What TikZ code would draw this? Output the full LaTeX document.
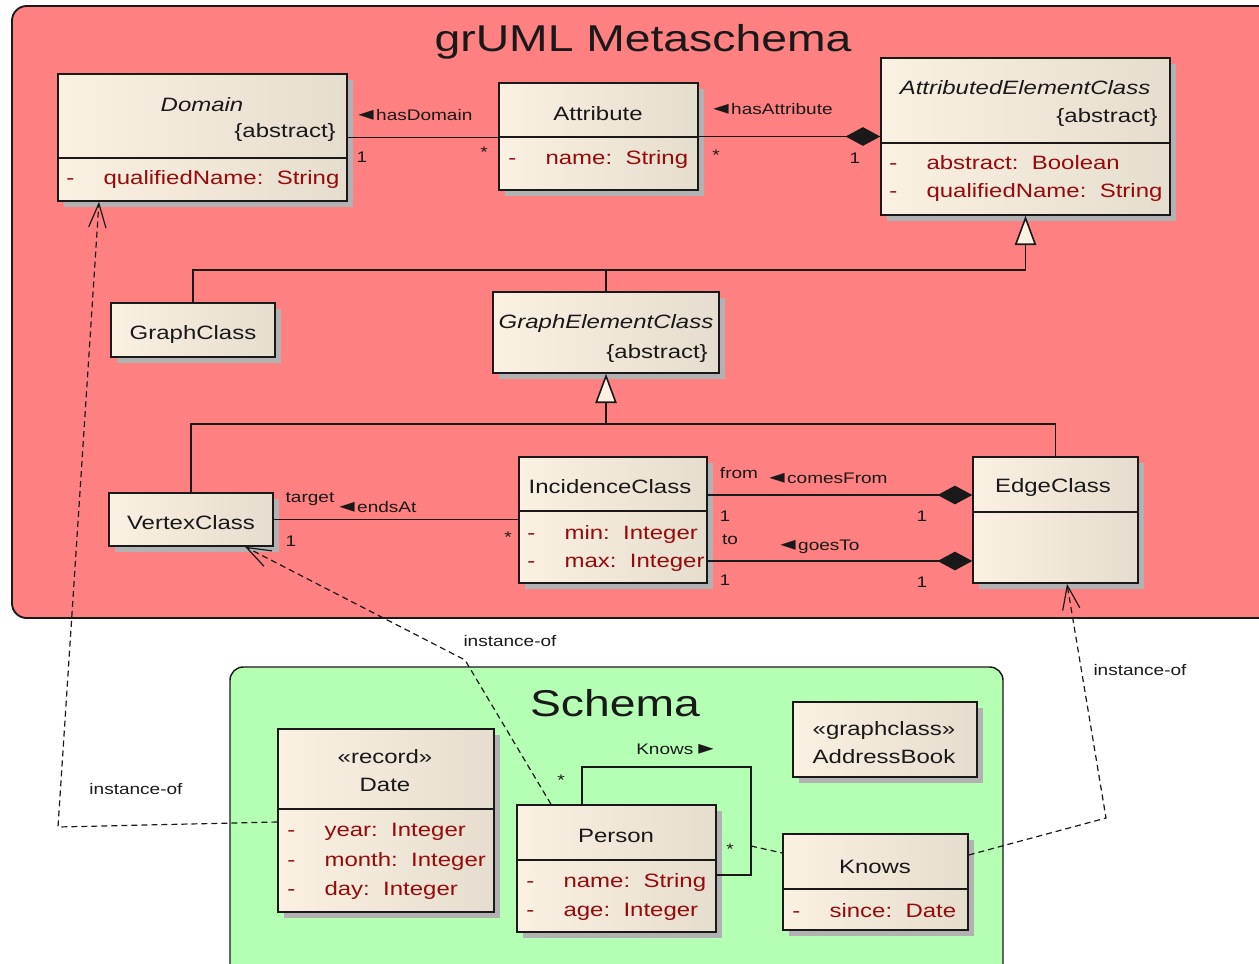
\documentclass[tikz,border=0pt]{standalone}
\usepackage{fontspec}
\setmainfont{Liberation Sans}[FakeStretch=1.24]
\newfontfamily\symfont{DejaVu Sans}
\usepackage{tikz}
\usetikzlibrary{arrows.meta, positioning, shadows, fit, calc}
\definecolor{metaRed}{RGB}{255,128,128}
\definecolor{schemaGreen}{RGB}{181,255,181}
\definecolor{boxLeft}{RGB}{251,241,226}
\definecolor{boxRight}{RGB}{229,221,206}
\definecolor{attrRed}{RGB}{150,10,10}
\definecolor{shadowGray}{RGB}{178,178,178}
\definecolor{lineBlack}{gray}{0.1}
\newcommand{\attrline}[1]{-\hspace{22pt}#1}
\newcommand{\lpointer}{{\symfont\fontsize{15}{12}\selectfont ◄}}
\newcommand{\rpointer}{{\symfont\fontsize{15}{12}\selectfont ►}}

\begin{document}
\begin{tikzpicture}[x=0.75pt, y=-0.75pt, >=Stealth,
    cls/.style={draw=lineBlack, line width=1.1pt, inner sep=0pt, left color=boxLeft, right color=boxRight,
        drop shadow={shadow xshift=4.5pt, shadow yshift=-4.5pt, fill=shadowGray, opacity=1}},
    clsname/.style={font=\fontsize{14.5}{17}\selectfont, text=lineBlack, inner sep=0pt},
    attr/.style={font=\fontsize{14.5}{17}\selectfont, text=attrRed, anchor=west, inner sep=0pt},
    lbl/.style={font=\fontsize{11.5}{13}\selectfont, text=lineBlack, inner sep=0pt},
    pkgtitle/.style={font=\fontsize{28}{32}\selectfont, text=lineBlack, inner sep=0pt},
    assoc/.style={draw=lineBlack, line width=1.2pt},
    inherit/.style={assoc, -{Triangle[length=22pt, width=16pt, fill=boxLeft]}},
    compose/.style={assoc, -{Diamond[length=26pt, width=14pt]}},
    inst/.style={draw=lineBlack, line width=0.9pt, dash pattern=on 4.5pt off 3pt,
        -{Straight Barb[length=18pt, width=13pt]}}]
    \useasboundingbox (0,0) rectangle (1259,963);
    \clip (0,0) rectangle (1259,963);

    % Packages
    \draw[fill=metaRed, draw=lineBlack, line width=1.4pt, rounded corners=11pt] (12,6) rectangle (1300,618);
    \draw[fill=schemaGreen, draw=lineBlack, line width=1.1pt, rounded corners=10pt] (230,667) rectangle (1003,1000);
    \node[pkgtitle] (metaTitle) at (643,42) {grUML Metaschema};
    \node[pkgtitle] (schemaTitle) at (615,703) {Schema};

    % Metaschema classes
    \node[cls, fit={(58,74) (347,201)}] (domain) {};
    \draw[assoc] (domain.west |- 0,158) -- (domain.east |- 0,158);
    \node[clsname] (domainName) at (202,105) {\itshape Domain};
    \node[clsname, anchor=east] (domainAbs) at (336,133) {\{abstract\}};
    \node[attr] (domainA1) at (66,180) {\attrline{qualifiedName:\ \ String}};

    \node[cls, fit={(499,83) (698,190)}] (attribute) {};
    \draw[assoc] (attribute.west |- 0,137) -- (attribute.east |- 0,137);
    \node[clsname] (attributeName) at (598,114) {Attribute};
    \node[attr] (attributeA1) at (508,160) {\attrline{name:\ \ String}};

    \node[cls, fit={(881,58) (1170,215)}] (aec) {};
    \draw[assoc] (aec.west |- 0,143) -- (aec.east |- 0,143);
    \node[clsname] (aecName) at (1025,88) {\itshape AttributedElementClass};
    \node[clsname, anchor=east] (aecAbs) at (1158,118) {\{abstract\}};
    \node[attr] (aecA1) at (889,163) {\attrline{abstract:\ \ Boolean}};
    \node[attr] (aecA2) at (889,193) {\attrline{qualifiedName:\ \ String}};

    \node[cls, fit={(111,303) (275,357)}] (graphClass) {};
    \node[clsname] (graphClassName) at (193,334) {GraphClass};

    \node[cls, fit={(493,292) (719,373)}] (gec) {};
    \node[clsname] (gecName) at (606,323) {\itshape GraphElementClass};
    \node[clsname, anchor=east] (gecAbs) at (708,353) {\{abstract\}};

    \node[cls, fit={(109,493) (273,546)}] (vertexClass) {};
    \node[clsname] (vertexClassName) at (191,523) {VertexClass};

    \node[cls, fit={(519,457) (707,583)}] (incidenceClass) {};
    \draw[assoc] (incidenceClass.west |- 0,511) -- (incidenceClass.east |- 0,511);
    \node[clsname] (incidenceClassName) at (610,487) {IncidenceClass};
    \node[attr] (incidenceA1) at (527,534) {\attrline{min:\ \ Integer}};
    \node[attr] (incidenceA2) at (527,563) {\attrline{max:\ \ Integer}};

    \node[cls, fit={(973,457) (1138,583)}] (edgeClass) {};
    \draw[assoc] (edgeClass.west |- 0,512) -- (edgeClass.east |- 0,512);
    \node[clsname] (edgeClassName) at (1053,487) {EdgeClass};

    % Schema classes
    \node[cls, fit={(278,729) (494,912)}] (date) {};
    \draw[assoc] (date.west |- 0,809) -- (date.east |- 0,809);
    \node[clsname] (dateStereo) at (385,757) {«record»};
    \node[clsname] (dateName) at (385,785) {Date};
    \node[attr] (dateA1) at (287,832) {\attrline{year:\ \ Integer}};
    \node[attr] (dateA2) at (287,861) {\attrline{month:\ \ Integer}};
    \node[attr] (dateA3) at (287,890) {\attrline{day:\ \ Integer}};

    \node[cls, fit={(517,805) (716,932)}] (person) {};
    \draw[assoc] (person.west |- 0,860) -- (person.east |- 0,860);
    \node[clsname] (personName) at (616,836) {Person};
    \node[attr] (personA1) at (526,882) {\attrline{name:\ \ String}};
    \node[attr] (personA2) at (526,912) {\attrline{age:\ \ Integer}};

    \node[cls, fit={(793,702) (977,777)}] (addressBook) {};
    \node[clsname] (addressBookStereo) at (884,730) {«graphclass»};
    \node[clsname] (addressBookName) at (884,757) {AddressBook};

    \node[cls, fit={(783,834) (968,930)}] (knowsClass) {};
    \draw[assoc] (knowsClass.west |- 0,889) -- (knowsClass.east |- 0,889);
    \node[clsname] (knowsClassName) at (875,867) {Knows};
    \node[attr] (knowsA1) at (792,911) {\attrline{since:\ \ Date}};

    % Associations
    \draw[assoc] (domain.east) -- (domain.east -| attribute.west);
    \draw[compose] (attribute.east) -- (aec.west);
    \draw[assoc] (vertexClass.east) -- (vertexClass.east -| incidenceClass.west);
    \draw[compose] (incidenceClass.east |- 0,495) -- (edgeClass.west |- 0,495);
    \draw[compose] (incidenceClass.east |- 0,561) -- (edgeClass.west |- 0,561);
    \coordinate (knowsLeft) at (582,767);
    \coordinate (knowsCorner) at (751,767);
    \coordinate (knowsMid) at (751,846);
    \draw[assoc] (person.north -| knowsLeft) -- (knowsLeft) -- (knowsCorner) |- (person.east |- 0,875);
    \draw[draw=lineBlack, line width=0.9pt, dash pattern=on 4.5pt off 3pt] (knowsMid) -- (knowsClass.west |- 0,853);

    % Generalizations
    \coordinate (aecJoin) at (aec.south |- 0,270);
    \coordinate (gecJoin) at (gec.south |- 0,424);
    \draw[inherit] (aecJoin) -- (aec.south);
    \draw[assoc] (graphClass.north) |- (aecJoin);
    \draw[assoc] (gec.north) -- (gec.north |- aecJoin);
    \draw[inherit] (gecJoin) -- (gec.south);
    \draw[assoc] (vertexClass.north) |- (gecJoin) -| (edgeClass.north);

    % Instance-of
    \coordinate (bendDate) at (58,827);
    \coordinate (bendPerson) at (465,660);
    \coordinate (bendKnows) at (1106,818);
    \draw[inst] (date.west |- 0,822) -- (bendDate) -- (domain.south -| 99,0);
    \draw[inst] (person.north -| 551,0) -- (bendPerson) -- (vertexClass.south -| 245,0);
    \draw[inst] (knowsClass.east |- 0,855) -- (bendKnows) -- (edgeClass.south -| 1067,0);

    % Labels
    \node[lbl, anchor=west] (hasDomainLbl) at (358,115) {\lpointer\,hasDomain};
    \node[lbl] (domainMult) at (362,157) {1};
    \node[lbl] (attrMultA) at (484,152) {*};
    \node[lbl, anchor=west] (hasAttributeLbl) at (713,109) {\lpointer\,hasAttribute};
    \node[lbl] (attrMultB) at (716,155) {*};
    \node[lbl] (aecMult) at (855,158) {1};
    \node[lbl] (targetLbl) at (310,499) {target};
    \node[lbl, anchor=west] (endsAtLbl) at (339,507) {\lpointer\,endsAt};
    \node[lbl] (vertexMult) at (291,541) {1};
    \node[lbl] (incMultA) at (508,537) {*};
    \node[lbl] (fromLbl) at (739,473) {from};
    \node[lbl, anchor=west] (comesFromLbl) at (769,478) {\lpointer\,comesFrom};
    \node[lbl] (incMultB) at (725,516) {1};
    \node[lbl] (edgeMultA) at (922,516) {1};
    \node[lbl] (toLbl) at (730,540) {to};
    \node[lbl, anchor=west] (goesToLbl) at (780,547) {\lpointer\,goesTo};
    \node[lbl] (incMultC) at (725,580) {1};
    \node[lbl] (edgeMultB) at (922,582) {1};
    \node[lbl, anchor=west] (knowsLbl) at (636,749) {Knows\,\,\rpointer};
    \node[lbl] (personMultA) at (561,780) {*};
    \node[lbl] (personMultB) at (730,849) {*};
    \node[lbl] (instDomainLbl) at (136,789) {instance-of};
    \node[lbl] (instVertexLbl) at (510,641) {instance-of};
    \node[lbl] (instEdgeLbl) at (1140,670) {instance-of};
\end{tikzpicture}
\end{document}
